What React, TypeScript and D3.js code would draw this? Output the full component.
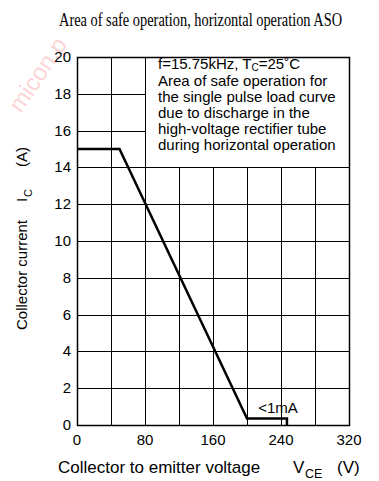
import React, { useLayoutEffect, useRef, useState } from 'react';
import * as d3 from 'd3';

// Axis ticks
const voltageTicks = [0, 80, 160, 240, 320];
const voltageGrid = [0, 40, 80, 120, 160, 200, 240, 280, 320];
const currentTicks = [0, 2, 4, 6, 8, 10, 12, 14, 16, 18, 20];

// ASO boundary (V, A)
const asoVoltage = [0, 50, 200, 247, 247];
const asoCurrent = [15, 15, 0.35, 0.35, 0];

const noteLines = [
  'Area of safe operation for',
  'the single pulse load curve',
  'due to discharge in the',
  'high-voltage rectifier tube',
  'during horizontal operation',
];

const W = 379;
const H = 481;
const sans = 'Arial, "Liberation Sans", Helvetica, sans-serif';
const TITLE_W = 283;

export default function App() {
  const titleRef = useRef<SVGTextElement>(null);
  const [titleScale, setTitleScale] = useState(0.75);

  useLayoutEffect(() => {
    if (!titleRef.current) return;
    const w = titleRef.current.getComputedTextLength();
    if (w > 0) setTitleScale(TITLE_W / w);
  }, []);

  const x = d3.scaleLinear().domain([0, 320]).range([77, 349]);
  const y = d3.scaleLinear().domain([0, 20]).range([425, 57]);
  const px = (v: number) => Math.round(x(v)) + 0.5;
  const py = (v: number) => Math.round(y(v)) + 0.5;

  const path = d3.line<number>()
    .x((d) => x(d))
    .y((_, i) => y(asoCurrent[i]));

  return (
    <svg width={W} height={H} style={{ position: 'absolute', left: 0, top: 0, background: '#fff' }}>
      {/* watermark */}
      <text
        transform="translate(21,114) rotate(-56)"
        fontFamily={sans}
        fontSize={24}
        fill="#fcd6d6"
      >
        micon.p
      </text>

      <g transform={`translate(59,26) scale(${titleScale},1)`}>
        <text
          ref={titleRef}
          x={0}
          y={0}
          fontFamily='"Liberation Serif", "Times New Roman", serif'
          fontSize={19}
        >
          Area of safe operation, horizontal operation ASO
        </text>
      </g>

      {/* grid */}
      <g stroke="#000" strokeWidth={1} shapeRendering="crispEdges">
        {currentTicks.map((t) => (
          <line key={'h' + t} x1={px(0)} x2={px(320)} y1={py(t)} y2={py(t)} />
        ))}
        {voltageGrid.map((t) => (
          <line key={'v' + t} x1={px(t)} x2={px(t)} y1={py(0)} y2={py(20)} />
        ))}
      </g>

      {/* note box */}
      <rect x={px(80)} y={py(20)} width={px(320) - px(80)} height={py(14) - py(20)}
        fill="#fff" stroke="#000" strokeWidth={1} shapeRendering="crispEdges" />
      <g fontFamily={sans} fontSize={15} fill="#000">
        <text x={158} y={68.5}>
          f=15.75kHz, T<tspan fontSize={10} dy={2}>C</tspan>
          <tspan dy={-2}>=25˚C</tspan>
        </text>
        {noteLines.map((s, i) => (
          <text key={s} x={158} y={85.5 + i * 16.2}>{s}</text>
        ))}
      </g>

      <rect x={px(0)} y={py(20)} width={px(320) - px(0)} height={py(0) - py(20)}
        fill="none" stroke="#000" strokeWidth={1.5} />

      <path d={path(asoVoltage) ?? ''} fill="none" stroke="#000" strokeWidth={2.5} strokeLinejoin="miter" />

      <text x={x(236.5)} y={413} textAnchor="middle" fontFamily={sans} fontSize={15}>&lt;1mA</text>

      {/* tick labels */}
      <g fontFamily={sans} fontSize={15} fill="#000">
        {currentTicks.map((t) => (
          <text key={t} x={71} y={y(t) + 5} textAnchor="end">{t}</text>
        ))}
        {voltageTicks.map((t) => (
          <text key={t} x={x(t)} y={445} textAnchor="middle">{t}</text>
        ))}
      </g>

      {/* axis titles */}
      <g fontFamily={sans} fill="#000">
        <text x={58} y={473} fontSize={17}>Collector to emitter voltage</text>
        <text x={293} y={473} fontSize={17}>V</text>
        <text x={305} y={478} fontSize={12.5}>CE</text>
        <text x={337} y={473} fontSize={17}>(V)</text>
      </g>
      <g fontFamily={sans} fill="#000" transform="translate(27,0) rotate(-90)">
        <text x={-330} y={0} fontSize={15}>Collector current</text>
        <text x={-202} y={0} fontSize={15}>I</text>
        <text x={-197} y={5} fontSize={11}>C</text>
        <text x={-167} y={0} fontSize={15}>(A)</text>
      </g>
    </svg>
  );
}
